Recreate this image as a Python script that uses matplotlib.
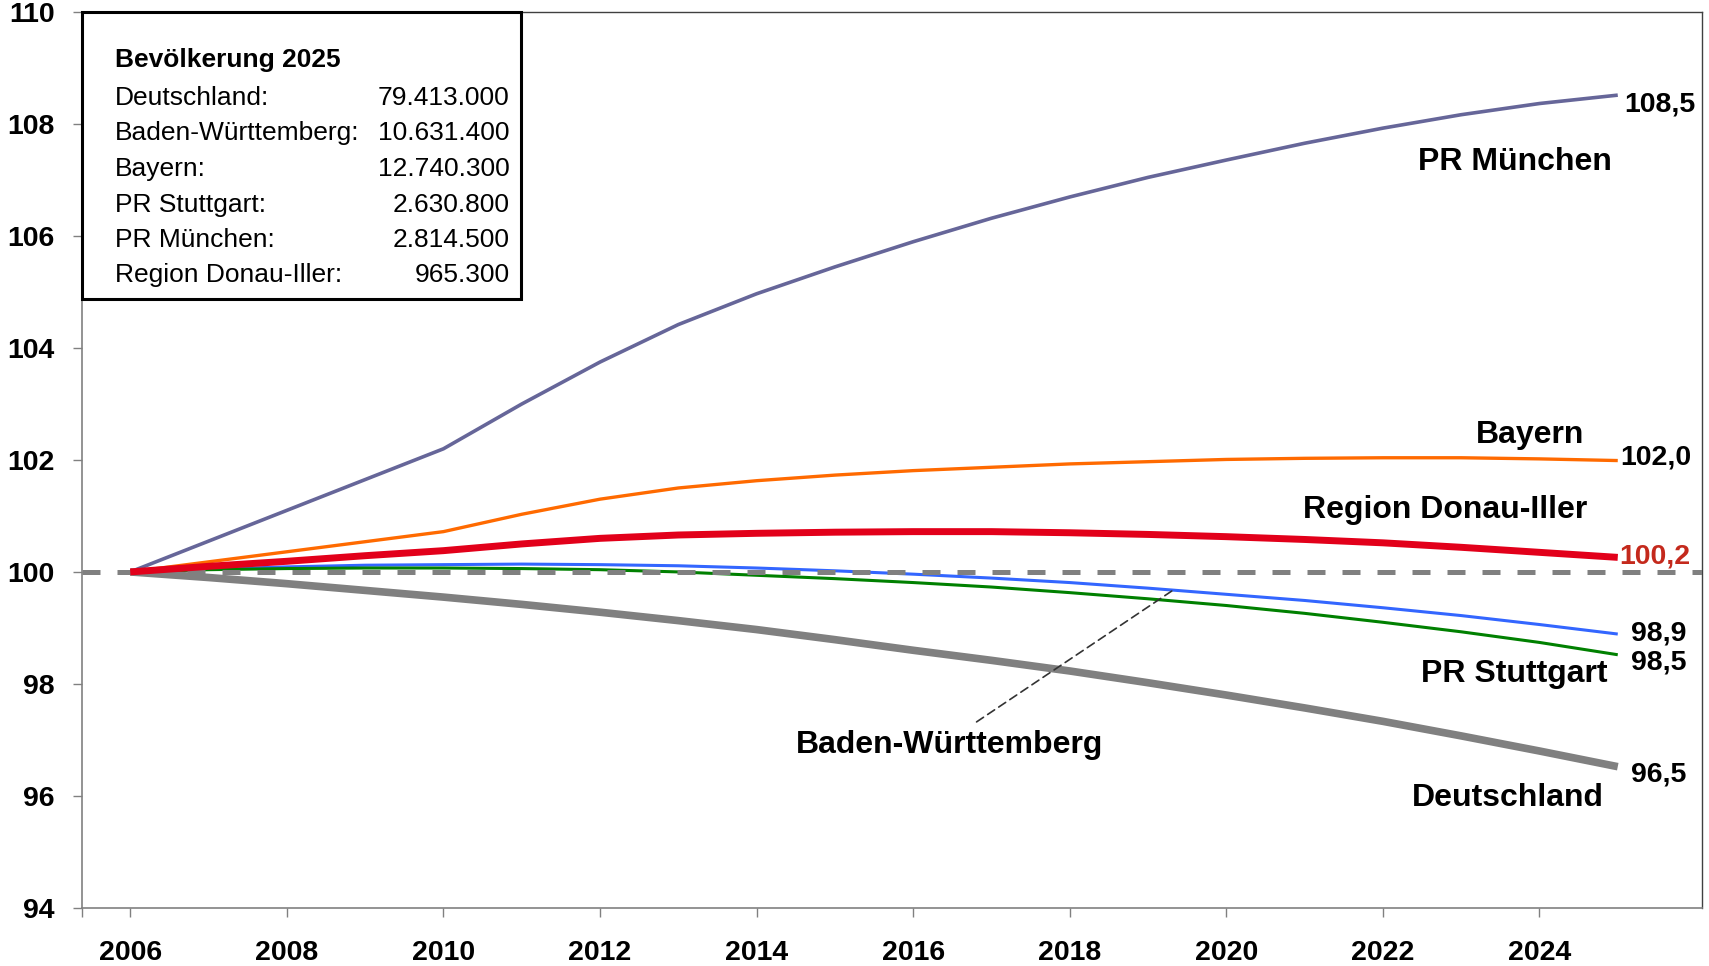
import numpy as np
import matplotlib
matplotlib.use("Agg")
import matplotlib.pyplot as plt
from matplotlib.patches import Rectangle

plt.rcParams['font.family'] = ['Liberation Sans', 'DejaVu Sans']

# Index 2006 = 100
years = list(range(2006, 2026))
muenchen = [100, 100.55, 101.1, 101.65, 102.2, 103.0, 103.75, 104.42, 104.97, 105.45,
            105.9, 106.32, 106.7, 107.05, 107.36, 107.66, 107.93, 108.17, 108.37, 108.52]
bayern = [100, 100.18, 100.36, 100.54, 100.72, 101.03, 101.3, 101.5, 101.63, 101.73,
          101.81, 101.87, 101.93, 101.97, 102.01, 102.03, 102.04, 102.04, 102.02, 101.99]
donau_iller = [100, 100.1, 100.19, 100.29, 100.38, 100.5, 100.6, 100.66, 100.69, 100.71,
               100.72, 100.72, 100.7, 100.67, 100.63, 100.58, 100.52, 100.44, 100.35, 100.26]
bw = [100, 100.05, 100.09, 100.12, 100.13, 100.14, 100.13, 100.11, 100.07, 100.02,
      99.96, 99.89, 99.81, 99.71, 99.6, 99.49, 99.36, 99.22, 99.06, 98.89]
stuttgart = [100, 100.04, 100.06, 100.07, 100.07, 100.06, 100.04, 100.0, 99.94, 99.88,
             99.81, 99.73, 99.63, 99.52, 99.40, 99.26, 99.10, 98.93, 98.74, 98.52]
deutschland = [100, 99.9, 99.79, 99.67, 99.55, 99.42, 99.28, 99.13, 98.97, 98.79,
               98.60, 98.42, 98.23, 98.02, 97.80, 97.57, 97.33, 97.07, 96.80, 96.52]

end_labels = ["108,5", "102,0", "100,2", "98,9", "98,5", "96,5"]

box_title = "Bevölkerung 2025"
box_names = ["Deutschland:", "Baden-Württemberg:", "Bayern:", "PR Stuttgart:",
             "PR München:", "Region Donau-Iller:"]
box_values = ["79.413.000", "10.631.400", "12.740.300", "2.630.800", "2.814.500", "965.300"]

W, H = 1709, 966
fig = plt.figure(figsize=(W / 100, H / 100), dpi=100)
ax = fig.add_axes([0.04781, 0.06035, 0.94828, 0.92692])

# series: values, colour, width, label text, label position
series = [
    (muenchen, "#666699", 2.6, "PR München", (2023.69, 107.18)),
    (bayern, "#FF6A00", 2.4, "Bayern", (2023.88, 102.30)),
    (bw, "#3366FF", 2.2, None, None),
    (stuttgart, "#008000", 2.2, "PR Stuttgart", (2023.68, 98.04)),
    (deutschland, "#808080", 5.5, "Deutschland", (2023.59, 95.82)),
]

for vals, col, lw, name, pos in series:
    ax.plot(years, vals, color=col, lw=lw, solid_capstyle='butt', zorder=3)

ax.axhline(100, color="#808080", lw=3.6, dashes=(3.6, 3.4), zorder=4)
ax.plot(years, donau_iller, color="#E2001A", lw=5.0, solid_capstyle='butt', zorder=5)

# end values next to the last point
all_series = [muenchen, bayern, donau_iller, bw, stuttgart, deutschland]
offsets = [(4.5, -11.9), (1.6, -3.1), (1.0, -4.5), (9.6, -5.0), (9.6, -10.3), (9.6, -10.8)]
colors = ["black", "black", "#C4291C", "black", "black", "black"]
for vals, lab, off, c in zip(all_series, end_labels, offsets, colors):
    ax.annotate(lab, xy=(years[-1], vals[-1]), xytext=off, textcoords='offset points',
                ha='left', va='baseline', fontsize=20.5, fontweight='bold', color=c,
                annotation_clip=False)

for vals, col, lw, name, pos in series:
    if name:
        ax.text(pos[0], pos[1], name, ha='center', va='baseline', fontsize=23,
                fontweight='bold', zorder=6)
ax.text(2022.79, 100.96, "Region Donau-Iller", ha='center', va='baseline',
        fontsize=23, fontweight='bold', zorder=6)

# Baden-Württemberg with leader line
lead_x = 2019.32
ax.annotate("", xy=(lead_x, np.interp(lead_x, years, bw)), xytext=(2016.81, 97.32),
            arrowprops=dict(arrowstyle='-', color='#333333', lw=1.2,
                            linestyle=(0, (5, 3)), shrinkA=0, shrinkB=0), zorder=6)
ax.text(2016.47, 96.77, "Baden-Württemberg", ha='center', va='baseline',
        fontsize=23, fontweight='bold', zorder=6)

ax.set_xlim(2005.38, 2026.08)
ax.set_ylim(94, 110)
ax.set_yticks(range(94, 111, 2))
ax.set_xticks(range(2006, 2025, 2))
ax.set_xticks([2005.38], minor=True)
ax.tick_params(axis='y', direction='out', length=6.5, width=1, color='#808080',
               pad=13, labelsize=20.5)
ax.tick_params(axis='x', which='both', direction='out', length=6.5, width=1,
               color='#808080', pad=17, labelsize=20.5)
for lbl in ax.get_xticklabels() + ax.get_yticklabels():
    lbl.set_fontweight('bold')

for side in ['left', 'bottom']:
    ax.spines[side].set_color('#808080')
    ax.spines[side].set_linewidth(1.2)
for side in ['top', 'right']:
    ax.spines[side].set_color('#404040')
    ax.spines[side].set_linewidth(1.0)

# info box in the upper left corner
box = Rectangle((0, 0.6795), 0.2709, 0.3205, transform=ax.transAxes, facecolor='white',
                edgecolor='black', lw=2.2, zorder=10, clip_on=False)
ax.add_patch(box)

fig.text(114.8 / W, 1 - 66.7 / H, box_title, fontsize=19, fontweight='bold',
         va='baseline', ha='left', zorder=11)
row_y = [105, 140, 175.7, 211.7, 246.7, 281.7]
for yb, n, v in zip(row_y, box_names, box_values):
    fig.text(114.8 / W, 1 - yb / H, n, fontsize=19, va='baseline', ha='left', zorder=11)
    fig.text(509.8 / W, 1 - yb / H, v, fontsize=19, va='baseline', ha='right', zorder=11)

fig.savefig("out.png", dpi=100)
